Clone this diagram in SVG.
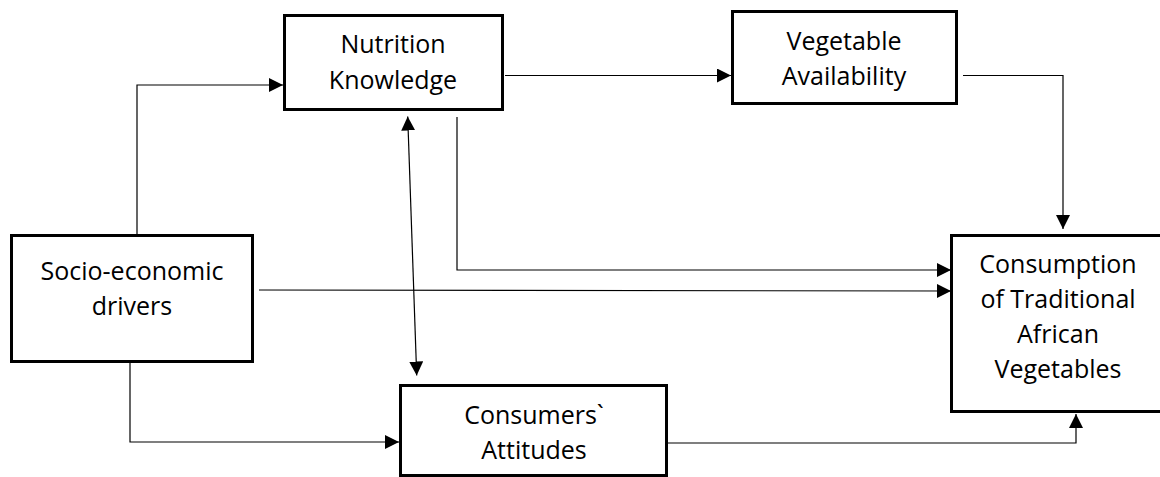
<svg xmlns="http://www.w3.org/2000/svg" width="1160" height="477" viewBox="0 0 1160 477">
<style>
.box{fill:#fff;stroke:#000;stroke-width:3}
.lbl{font-family:"Open Sans","Liberation Sans",sans-serif;font-size:25px;fill:#000;text-anchor:middle}
.con{fill:none;stroke:#000;stroke-width:1.2}
</style>
<defs>
<marker id="arr" markerUnits="userSpaceOnUse" markerWidth="14" markerHeight="14" refX="13" refY="6.5" orient="auto-start-reverse" viewBox="0 0 13 13">
<path d="M0,0 L13,6.5 L0,13 z" fill="#000"/>
</marker>
</defs>
<rect width="1160" height="477" fill="#fff"/>
<g id="connectors">
<path class="con" d="M137,234 V85 H283" marker-end="url(#arr)"/>
<path class="con" d="M505,75.5 H731" marker-end="url(#arr)"/>
<path class="con" d="M963,75.5 H1063 V229" marker-end="url(#arr)"/>
<path class="con" d="M457,117 V270 H951" marker-end="url(#arr)"/>
<path class="con" d="M259,290 L951,291" marker-end="url(#arr)"/>
<path class="con" d="M130,363 V442 H399" marker-end="url(#arr)"/>
<path class="con" d="M668,443 H1076 V414" marker-end="url(#arr)"/>
<path class="con" d="M407.7,116.5 L416.7,375.5" marker-start="url(#arr)" marker-end="url(#arr)"/>
</g>
<g id="nutrition">
<rect class="box" x="284.5" y="15.5" width="218" height="94"/>
<text class="lbl" x="393" y="53">Nutrition</text>
<text class="lbl" x="393" y="89">Knowledge</text>
</g>
<g id="vegetable">
<rect class="box" x="732.5" y="11.5" width="224" height="92"/>
<text class="lbl" x="844" y="50">Vegetable</text>
<text class="lbl" x="844" y="85">Availability</text>
</g>
<g id="socio">
<rect class="box" x="11.5" y="235.5" width="241" height="126"/>
<text class="lbl" x="132" y="280">Socio-economic</text>
<text class="lbl" x="132" y="315">drivers</text>
</g>
<g id="consumers">
<rect class="box" x="400.5" y="385.5" width="266" height="90"/>
<text class="lbl" x="534" y="424">Consumers`</text>
<text class="lbl" x="534" y="459">Attitudes</text>
</g>
<g id="consumption">
<rect class="box" x="951.5" y="235.5" width="220" height="176"/>
<text class="lbl" x="1058" y="273">Consumption</text>
<text class="lbl" x="1058" y="308">of Traditional</text>
<text class="lbl" x="1058" y="343">African</text>
<text class="lbl" x="1058" y="378">Vegetables</text>
</g>
</svg>
